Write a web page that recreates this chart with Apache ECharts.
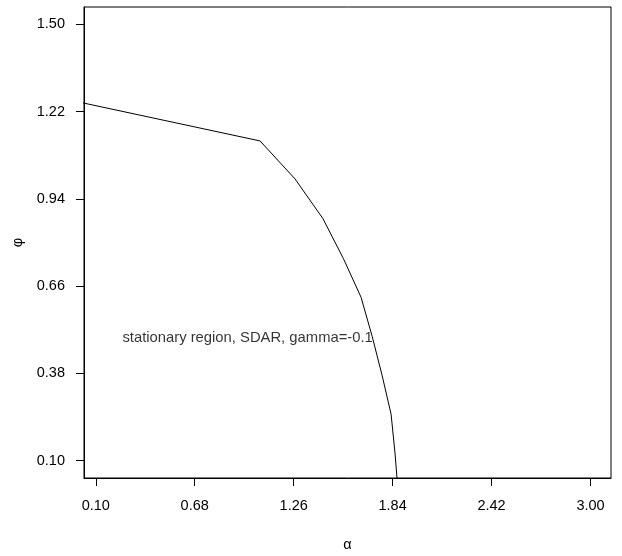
<!DOCTYPE html>
<html>
<head>
<meta charset="utf-8">
<script src="https://cdn.jsdelivr.net/npm/echarts@6/dist/echarts.min.js"></script>
<style>
html,body{margin:0;padding:0;background:#fff;}
#c{width:622px;height:556px;}
</style>
</head>
<body>
<div id="c"></div>
<script>
// Data
const alphaValues = [0, 1.063, 1.268, 1.431, 1.551, 1.655, 1.720, 1.778, 1.831, 1.854, 1.872];
const phiValues   = [1.251, 1.126, 1.004, 0.877, 0.749, 0.624, 0.499, 0.374, 0.249, 0.124, 0.0];
const xTicks = [0.10, 0.68, 1.26, 1.84, 2.42, 3.00];
const yTicks = [0.10, 0.38, 0.66, 0.94, 1.22, 1.50];
const annotationText = 'stationary region, SDAR, gamma=-0.1';
const annotationPos = [0.99, 0.495];
const xTitle = 'α';
const yTitle = 'φ';

const FONT = 'Liberation Sans, Arial, sans-serif';
const chart = echarts.init(document.getElementById('c'), null, {renderer: 'canvas'});
chart.setOption({
  animation: false,
  backgroundColor: '#fff',
  grid: {left: 84, top: 7, right: 11, bottom: 78, show: true, borderColor: '#000', borderWidth: 1,
    backgroundColor: 'transparent', containLabel: false, outerBoundsMode: 'none'},
  xAxis: {
    type: 'value', min: 0.031, max: 3.12,
    name: xTitle, nameLocation: 'middle', nameGap: 59,
    nameTextStyle: {fontFamily: FONT, fontSize: 14.5, color: '#000'},
    axisLine: {show: true, onZero: false, lineStyle: {color: '#000', width: 1}},
    axisTick: {show: true, length: 8, inside: false, customValues: xTicks, lineStyle: {color: '#000'}},
    axisLabel: {show: true, customValues: xTicks, margin: 20, fontFamily: FONT, fontSize: 14.5, color: '#000',
      formatter: v => v.toFixed(2)},
    splitLine: {show: false}
  },
  yAxis: {
    type: 'value', min: 0.044, max: 1.556,
    name: yTitle, nameLocation: 'middle', nameGap: 58, nameRotate: 90,
    nameTextStyle: {fontFamily: FONT, fontSize: 14.5, color: '#000'},
    axisLine: {show: true, onZero: false, lineStyle: {color: '#000', width: 1}},
    axisTick: {show: true, length: 8, inside: false, customValues: yTicks, lineStyle: {color: '#000'}},
    axisLabel: {show: true, customValues: yTicks, margin: 19, fontFamily: FONT, fontSize: 14.5, color: '#000',
      formatter: v => v.toFixed(2)},
    splitLine: {show: false}
  },
  series: [
    {
      type: 'line',
      data: alphaValues.map((a, i) => [a, phiValues[i]]),
      symbol: 'none',
      clip: true,
      lineStyle: {color: '#000', width: 1},
      z: 3
    },
    {
      type: 'scatter',
      data: [annotationPos],
      symbolSize: 0,
      label: {show: true, position: 'inside', formatter: annotationText,
        fontFamily: FONT, fontSize: 14.8, color: '#000'},
      z: 4
    }
  ]
});
</script>
</body>
</html>
